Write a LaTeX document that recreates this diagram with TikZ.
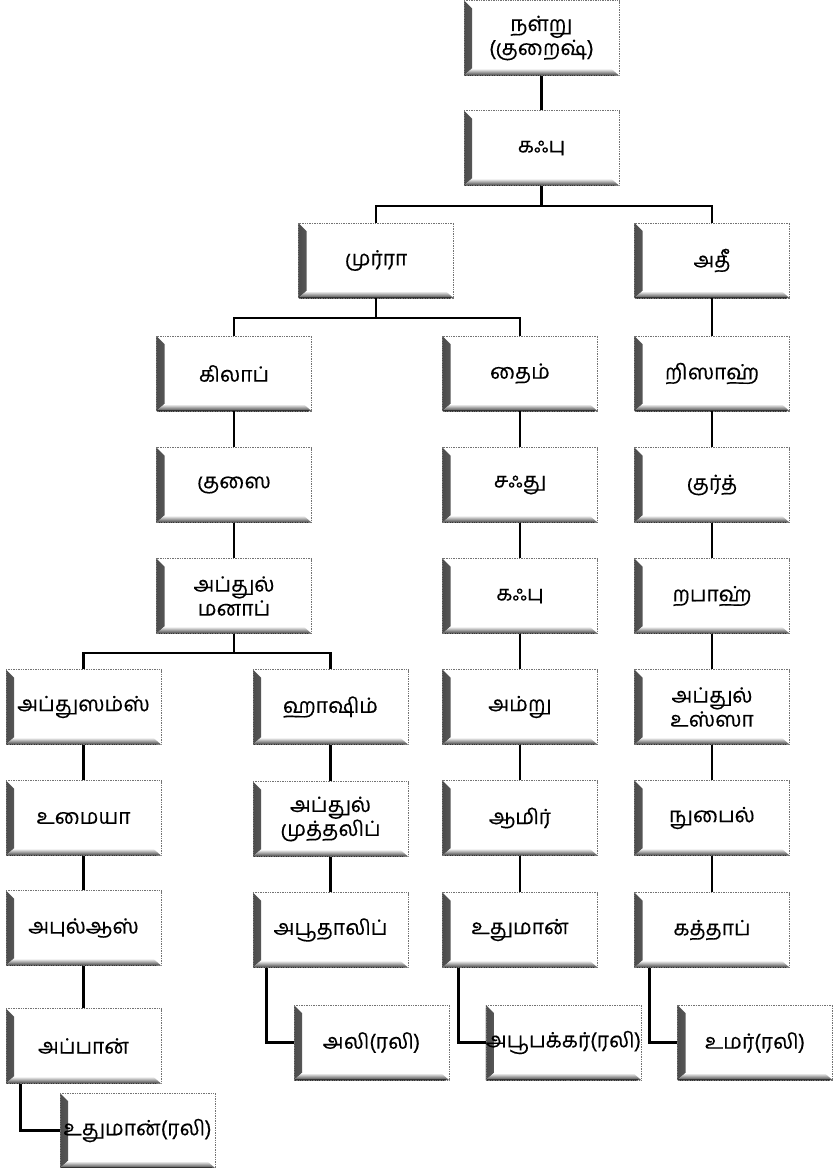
\documentclass[tikz,border=0pt]{standalone}
\usepackage{fontspec}
\newfontfamily\tam[Script=Tamil,FakeBold=0.3]{Hind Madurai}
\usetikzlibrary{calc}
\tikzset{
  fam/.style={rectangle, minimum width=155pt, minimum height=75pt, inner sep=0pt,
    align=center, font=\tam\fontsize{21}{24}\selectfont,
    draw=black!55, line width=0.6pt, dash pattern=on 1pt off 0.7pt,
    path picture={
      \shade[left color=black!70, right color=white]
        (path picture bounding box.north west)
        -- ([xshift=8pt,yshift=-8pt]path picture bounding box.north west)
        -- ([xshift=8pt,yshift=7pt]path picture bounding box.south west)
        -- (path picture bounding box.south west) -- cycle;
      \shade[bottom color=black!75, top color=white]
        (path picture bounding box.south west)
        -- ([xshift=8pt,yshift=7pt]path picture bounding box.south west)
        -- ([xshift=-8pt,yshift=7pt]path picture bounding box.south east)
        -- (path picture bounding box.south east) -- cycle;
      \draw[black!80, line width=1.2pt, solid]
        (path picture bounding box.south west) -- ([xshift=-3pt]path picture bounding box.south east);
      \draw[black!70, line width=1.2pt, solid]
        ([yshift=-3pt]path picture bounding box.north west) -- (path picture bounding box.south west);
    }},
  link/.style={line width=2.6pt, black}
}
\begin{document}
\begin{tikzpicture}[x=1pt,y=-1pt]
\useasboundingbox[fill=white] (0,0) rectangle (838,1168);
% row 0-2
\node[fam] (nalru) at (541.5,38) {நள்று\\(குறைஷ்)};
\node[fam] (kafuA) at (541.5,148) {கஃபு};
\node[fam] (murra) at (376,260.5) {முர்ரா};
\node[fam] (athi) at (712,260.5) {அதீ};
% row 3
\node[fam] (kilab) at (234,373.5) {கிலாப்};
\node[fam] (thaim) at (520,373.5) {தைம்};
\node[fam] (risah) at (712,373.5) {றிஸாஹ்};
% row 4
\node[fam] (kusai) at (234,485) {குஸை};
\node[fam] (sahthu) at (520,485) {சஃது};
\node[fam] (kurth) at (712,485) {குர்த்};
% row 5
\node[fam] (manaf) at (234,596) {அப்துல்\\மனாப்};
\node[fam] (kafuB) at (520,596) {கஃபு};
\node[fam] (rabah) at (712,596) {றபாஹ்};
% row 6
\node[fam] (shams) at (83.5,707) {அப்துஸம்ஸ்};
\node[fam] (hashim) at (330.5,707) {ஹாஷிம்};
\node[fam] (amru) at (520,707) {அம்று};
\node[fam] (uzza) at (712,707) {அப்துல்\\உஸ்ஸா};
% row 7
\node[fam] (umaiya) at (83.5,818) {உமையா};
\node[fam] (mutta) at (330.5,819) {அப்துல்\\முத்தலிப்};
\node[fam] (amir) at (520,818) {ஆமிர்};
\node[fam] (nufail) at (712,818) {நுபைல்};
% row 8
\node[fam] (abulas) at (83.5,928) {அபுல்ஆஸ்};
\node[fam] (talib) at (330.5,930) {அபூதாலிப்};
\node[fam] (uthu) at (520,930) {உதுமான்};
\node[fam] (khattab) at (712,930) {கத்தாப்};
% row 9
\node[fam] (abban) at (83.5,1046) {அப்பான்};
\node[fam] (ali) at (371.5,1042.5) {அலி(ரலி)};
\node[fam] (bakr) at (563.5,1042.5) {அபூபக்கர்(ரலி)};
\node[fam] (umar) at (755,1042.5) {உமர்(ரலி)};
% row 10
\node[fam] (uthrali) at (137.5,1130.5) {உதுமான்(ரலி)};
% connectors
\coordinate (j1) at (541.5,206);
\coordinate (j2) at (376,318);
\coordinate (j3) at (234,653);
\draw[link] (nalru) -- (kafuA);
\draw[link] (kafuA) -- (j1);
\draw[link] (murra.north) |- (j1) -| (athi.north);
\draw[link] (murra) -- (j2);
\draw[link] (kilab.north) |- (j2) -| (thaim.north);
\draw[link] (athi) -- (risah);
\draw[link] (kilab) -- (kusai);
\draw[link] (kusai) -- (manaf);
\draw[link] (manaf) -- (j3);
\draw[link] (shams.north) |- (j3) -| (hashim.north);
\draw[link] (thaim) -- (sahthu);
\draw[link] (sahthu) -- (kafuB);
\draw[link] (kafuB) -- (amru);
\draw[link] (amru) -- (amir);
\draw[link] (amir) -- (uthu);
\draw[link] (risah) -- (kurth);
\draw[link] (kurth) -- (rabah);
\draw[link] (rabah) -- (uzza);
\draw[link] (uzza) -- (nufail);
\draw[link] (nufail) -- (khattab);
\draw[link] (shams) -- (umaiya);
\draw[link] (umaiya) -- (abulas);
\draw[link] (abulas) -- (abban);
\draw[link] (hashim) -- (mutta);
\draw[link] (mutta) -- (talib);
\draw[link] ([xshift=14pt]talib.south west) |- (ali.west);
\draw[link] ([xshift=16pt]uthu.south west) |- (bakr.west);
\draw[link] ([xshift=15pt]khattab.south west) |- (umar.west);
\draw[link] ([xshift=15pt]abban.south west) |- (uthrali.west);
\end{tikzpicture}
\end{document}
